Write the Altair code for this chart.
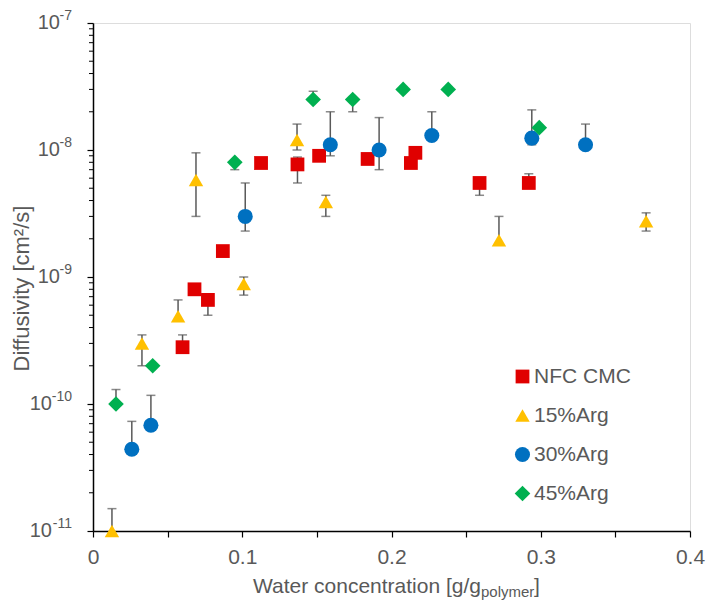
import altair as alt
import pandas as pd

# ---------------- data ----------------
series_names = ["NFC CMC", "15%Arg", "30%Arg", "45%Arg"]
series_colors = ["#E00000", "#FFC000", "#0070C0", "#00B050"]
series_shapes = ["square", "triangle-up", "circle", "diamond"]

nfc_x = [0.060, 0.068, 0.077, 0.087, 0.1126, 0.137, 0.1515, 0.184, 0.213, 0.216, 0.259, 0.292]
nfc_y = [2.8e-10, 8.0e-10, 6.6e-10, 1.6e-9, 7.9e-9, 7.7e-9, 9.0e-9, 8.5e-9, 7.9e-9, 9.5e-9, 5.5e-9, 5.5e-9]
nfc_lo = [None, None, 5.0e-10, None, None, 5.5e-9, None, None, None, None, 4.4e-9, None]
nfc_hi = [3.5e-10, None, None, None, None, 8.8e-9, None, None, None, None, None, 6.5e-9]

a15_x = [0.0127, 0.0328, 0.057, 0.069, 0.101, 0.1367, 0.156, 0.272, 0.3706]
a15_y = [1.0e-11, 3.0e-10, 4.9e-10, 5.8e-9, 8.8e-10, 1.2e-8, 3.9e-9, 1.95e-9, 2.75e-9]
a15_lo = [None, 2.0e-10, None, 3.0e-9, 7.2e-10, 1.0e-8, 3.0e-9, None, 2.3e-9]
a15_hi = [1.5e-11, 3.5e-10, 6.6e-10, 9.5e-9, 1.0e-9, 1.6e-8, 4.4e-9, 3.0e-9, 3.2e-9]

a30_x = [0.026, 0.0388, 0.102, 0.159, 0.1917, 0.227, 0.294, 0.330]
a30_y = [4.4e-11, 6.8e-11, 3.0e-9, 1.1e-8, 1.0e-8, 1.3e-8, 1.24e-8, 1.1e-8]
a30_lo = [None, None, 2.3e-9, 9.0e-9, 7.0e-9, None, 1.1e-8, None]
a30_hi = [7.3e-11, 1.17e-10, 5.5e-9, 2.0e-8, 1.8e-8, 2.0e-8, 2.07e-8, 1.6e-8]

a45_x = [0.0154, 0.040, 0.095, 0.1475, 0.174, 0.2078, 0.238, 0.299]
a45_y = [1.0e-10, 2.0e-10, 8.0e-9, 2.5e-8, 2.5e-8, 3.0e-8, 3.0e-8, 1.5e-8]
a45_lo = [None, None, 7.0e-9, None, 2.0e-8, None, None, None]
a45_hi = [1.3e-10, None, None, 2.9e-8, None, None, None, None]

x_ticks = [0, 0.05, 0.1, 0.15, 0.2, 0.25, 0.3, 0.35, 0.4]
y_decades = [-11, -10, -9, -8, -7]
minor_mult = [2, 3, 4, 5, 6, 7, 8, 9]

y_title = "Diffusivity [cm²/s]"
x_title_main = "Water concentration [g/g"
x_title_sub = "polymer"
x_title_end = "]"

# ---------------- tables ----------------
all_series = [
    (nfc_x, nfc_y, nfc_lo, nfc_hi),
    (a15_x, a15_y, a15_lo, a15_hi),
    (a30_x, a30_y, a30_lo, a30_hi),
    (a45_x, a45_y, a45_lo, a45_hi),
]
pts, errs = [], []
k = 0
for name, (xs, ys, los, his) in zip(series_names, all_series):
    for x, y, lo, hi in zip(xs, ys, los, his):
        pts.append({"series": name, "x": x, "y": y, "idx": k})
        k += 1
        if hi is not None:
            errs.append({"x": x, "y": y, "y2": hi, "cap": hi})
        if lo is not None:
            errs.append({"x": x, "y": lo, "y2": y, "cap": lo})
pts_df = pd.DataFrame(pts)
err_df = pd.DataFrame(errs)
cap_df = pd.DataFrame({"x": err_df["x"], "y": err_df["cap"]})
minor_df = pd.DataFrame({"y": [m * 10.0 ** e for e in y_decades[:-1] for m in minor_mult]})
lab_df = pd.DataFrame({"y": [10.0 ** e for e in y_decades],
                       "exp": [str(e) for e in y_decades],
                       "nd": [len(str(abs(e))) for e in y_decades]})

TXT = "#595959"
FONT = "Liberation Sans"

X = alt.X("x:Q", title=None,
          scale=alt.Scale(domain=[0, 0.4], nice=False, zero=False),
          axis=alt.Axis(values=x_ticks, tickSize=6, tickColor="black", tickWidth=1.2,
                        domainColor="black", domainWidth=1.5, grid=False,
                        labelExpr="abs(round(datum.value*10) - datum.value*10) < 1e-6 ? format(datum.value, '.1~f') : ''",
                        labelFontSize=21, labelColor=TXT, labelFont=FONT, labelPadding=9,
                        labelFlush=False))
Y = alt.Y("y:Q", title=y_title,
          scale=alt.Scale(type="log", domain=[1e-11, 1e-7], nice=False),
          axis=alt.Axis(values=[10.0 ** e for e in y_decades], tickSize=6, tickColor="black",
                        tickWidth=1.2, domainColor="black", domainWidth=1.5, grid=False,
                        labels=False, titleFontSize=22, titleFont=FONT, titleColor=TXT,
                        titleFontWeight="normal", titlePadding=53, titleY=265))

err_layer = alt.Chart(err_df).mark_rule(color="#595959", strokeWidth=1.5).encode(
    x=X, y=Y, y2="y2:Q")
cap_layer = alt.Chart(cap_df).mark_tick(color="#595959", thickness=1.5, size=9,
                                        orient="horizontal").encode(x=X, y=Y)

leg = alt.Legend(title=None, orient="none", legendX=419, legendY=343,
                 labelFontSize=21, labelColor=TXT, labelFont=FONT, labelOffset=1,
                 symbolSize=150, symbolStrokeWidth=0, rowPadding=17, padding=0)
pt_layer = alt.Chart(pts_df).mark_point(filled=True, opacity=1, strokeWidth=0).encode(
    x=X, y=Y,
    color=alt.Color("series:N", scale=alt.Scale(domain=series_names, range=series_colors), legend=leg),
    shape=alt.Shape("series:N", scale=alt.Scale(domain=series_names, range=series_shapes), legend=leg),
    size=alt.Size("series:N", scale=alt.Scale(domain=series_names, range=[190, 245, 155, 280]), legend=None),
    order=alt.Order("idx:Q"),
)

minor_layer = alt.Chart(minor_df).mark_rule(color="black", strokeWidth=1).encode(
    y=Y, x=alt.value(-4), x2=alt.value(0))

ten_short = alt.Chart(lab_df).transform_filter("datum.nd == 1").mark_text(
    align="right", baseline="middle", fontSize=20, font=FONT, color=TXT).encode(
    y=Y, x=alt.value(-33), text=alt.value("10"))
ten_long = alt.Chart(lab_df).transform_filter("datum.nd == 2").mark_text(
    align="right", baseline="middle", fontSize=20, font=FONT, color=TXT).encode(
    y=Y, x=alt.value(-41), text=alt.value("10"))
exp_text = alt.Chart(lab_df).mark_text(
    align="right", baseline="middle", fontSize=14, font=FONT, color=TXT, dy=-7).encode(
    y=Y, x=alt.value(-21), text="exp:N")

X1 = 388
t_main = alt.Chart(pd.DataFrame({"t": [x_title_main]})).mark_text(
    align="right", baseline="alphabetic", fontSize=21, font=FONT, color=TXT).encode(
    x=alt.value(X1), y=alt.value(570), text="t:N")
t_sub = alt.Chart(pd.DataFrame({"t": [x_title_sub]})).mark_text(
    align="left", baseline="alphabetic", fontSize=15, font=FONT, color=TXT).encode(
    x=alt.value(X1), y=alt.value(574), text="t:N")
t_end = alt.Chart(pd.DataFrame({"t": [x_title_end]})).mark_text(
    align="left", baseline="alphabetic", fontSize=21, font=FONT, color=TXT).encode(
    x=alt.value(X1 + 53), y=alt.value(570), text="t:N")

chart = alt.layer(err_layer, cap_layer, pt_layer, minor_layer, ten_short, ten_long, exp_text,
                  t_main, t_sub, t_end).properties(
    width=597, height=508,
    autosize=alt.AutoSizeParams(type="none"),
    padding={"left": 93, "top": 23, "right": 17, "bottom": 73},
).configure_view(stroke="#666666", strokeWidth=1).configure(background="white")

chart.save("out.html", embed_options={"renderer": "svg", "actions": False})
